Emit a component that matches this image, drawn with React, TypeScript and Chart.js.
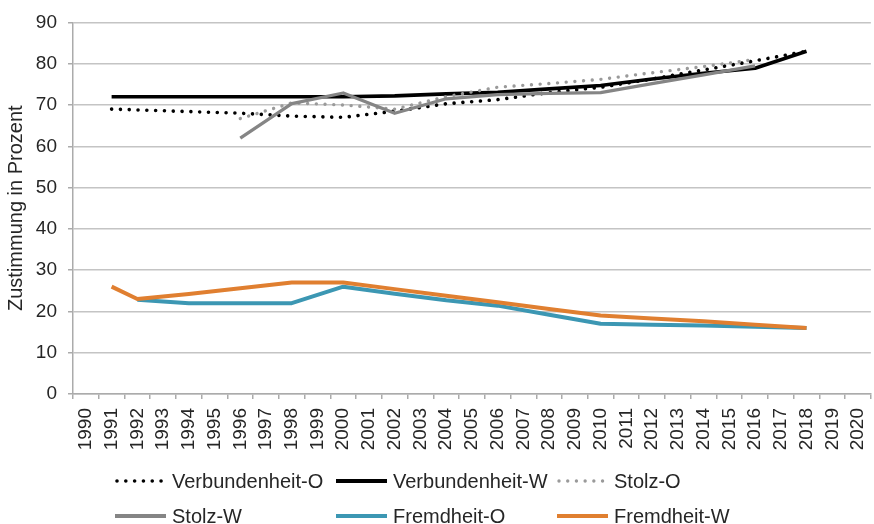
import React, { useEffect, useRef } from "react";
import { Chart, registerables } from "chart.js";

Chart.register(...registerables);

const yearLabels = [
  "1990", "1991", "1992", "1993", "1994", "1995", "1996", "1997", "1998", "1999",
  "2000", "2001", "2002", "2003", "2004", "2005", "2006", "2007", "2008", "2009",
  "2010", "2011", "2012", "2013", "2014", "2015", "2016", "2017", "2018", "2019", "2020",
];

const verbundenheitYears = [1991, 1996, 1998, 2000, 2002, 2004, 2006, 2008, 2010, 2012, 2014, 2016, 2018];
const verbundenheitO = [69, 68, 67.3, 67, 68.5, 70.3, 71.3, 73, 74.3, 76.3, 78.5, 80.7, 83];
const verbundenheitW = [72, 72, 72, 72, 72.2, 72.7, 73.1, 73.9, 74.7, 76.3, 77.7, 78.9, 83];

const stolzYears = [1996, 1998, 2000, 2002, 2004, 2006, 2008, 2010, 2012, 2014, 2016];
const stolzO = [66.7, 70.5, 70, 69, 72, 74.3, 75.2, 76.2, 77.8, 79.3, 81];
const stolzW = [62, 70.3, 72.9, 68, 71.5, 72.5, 72.8, 73, 75.2, 77.3, 79.5];

const fremdheitOYears = [1992, 1994, 1996, 1998, 2000, 2002, 2004, 2006, 2008, 2010, 2012, 2014, 2016, 2018];
const fremdheitO = [22.8, 22, 22, 22, 26, 24.3, 22.7, 21.4, 19.2, 17, 16.8, 16.6, 16.3, 16];

const fremdheitWYears = [1991, 1992, 1994, 1996, 1998, 2000, 2002, 2004, 2006, 2008, 2010, 2012, 2014, 2016, 2018];
const fremdheitW = [26, 23, 24.2, 25.6, 27, 27, 25.4, 23.8, 22.2, 20.6, 19, 18.3, 17.6, 16.8, 16];

const yTicks = [0, 10, 20, 30, 40, 50, 60, 70, 80, 90];

const FONT = '"Liberation Sans", Arial, Helvetica, sans-serif';
const TEXT = "#262626";

const toPoints = (years: number[], values: number[]) =>
  years.map((yr, i) => ({ x: String(yr), y: values[i] }));

const legendColumns = [115, 336, 557];
const legendRows = [481, 516];
const sampleLen = 51;

const gridLegend = {
  id: "gridLegend",
  afterDraw(chart: any) {
    const ctx = chart.ctx as CanvasRenderingContext2D;
    ctx.save();
    chart.data.datasets.forEach((ds: any, i: number) => {
      const col = i % 3;
      const row = Math.floor(i / 3);
      const x0 = legendColumns[col];
      const y = legendRows[row];
      ctx.beginPath();
      ctx.strokeStyle = ds.borderColor;
      ctx.lineWidth = ds.legendWidth || ds.borderWidth;
      ctx.setLineDash(ds.borderDash || []);
      ctx.lineCap = ds.borderCapStyle || "butt";
      ctx.moveTo(x0 + (ds.borderDash ? 2 : 0), y);
      ctx.lineTo(x0 + sampleLen, y);
      ctx.stroke();
      ctx.setLineDash([]);
      ctx.fillStyle = TEXT;
      ctx.font = `20px ${FONT}`;
      ctx.textBaseline = "middle";
      ctx.textAlign = "left";
      ctx.fillText(ds.label, x0 + sampleLen + 6, y + 1);
    });
    ctx.restore();
  },
};

export default function App() {
  const canvasRef = useRef<HTMLCanvasElement | null>(null);

  useEffect(() => {
    const canvas = canvasRef.current;
    if (!canvas) return;
    const chart = new Chart(canvas, {
      type: "line",
      data: {
        labels: yearLabels,
        datasets: [
          {
            label: "Verbundenheit-O",
            data: toPoints(verbundenheitYears, verbundenheitO),
            borderColor: "#000000",
            borderWidth: 3.6,
            borderDash: [0.01, 8.8],
            borderCapStyle: "round",
            order: 6,
          } as any,
          {
            label: "Verbundenheit-W",
            data: toPoints(verbundenheitYears, verbundenheitW),
            borderColor: "#000000",
            borderWidth: 3.6,
            legendWidth: 4,
            order: 5,
          } as any,
          {
            label: "Stolz-O",
            data: toPoints(stolzYears, stolzO),
            borderColor: "#9a9a9a",
            borderWidth: 3.4,
            borderDash: [0.01, 8.7],
            borderCapStyle: "round",
            order: 4,
          } as any,
          {
            label: "Stolz-W",
            data: toPoints(stolzYears, stolzW),
            borderColor: "#858585",
            borderWidth: 3.3,
            legendWidth: 4,
            order: 3,
          } as any,
          {
            label: "Fremdheit-O",
            data: toPoints(fremdheitOYears, fremdheitO),
            borderColor: "#3c97b3",
            borderWidth: 4,
            order: 2,
          } as any,
          {
            label: "Fremdheit-W",
            data: toPoints(fremdheitWYears, fremdheitW),
            borderColor: "#e07f30",
            borderWidth: 4,
            order: 1,
          } as any,
        ],
      },
      options: {
        animation: false,
        responsive: false,
        devicePixelRatio: 1,
        layout: { padding: { top: 21, right: 12, left: 0, bottom: 0 } },
        elements: {
          point: { radius: 0, hoverRadius: 0 },
          line: { tension: 0, borderJoinStyle: "round", fill: false },
        },
        plugins: {
          legend: { display: false },
          tooltip: { enabled: false },
          title: { display: false },
        },
        scales: {
          x: {
            type: "category",
            offset: true,
            grid: {
              display: true,
              drawOnChartArea: false,
              drawTicks: true,
              tickLength: 5,
              color: "#ababab",
              lineWidth: 1.5,
              offset: true,
            },
            border: { display: true, color: "#ababab", width: 1.5 },
            ticks: {
              autoSkip: false,
              minRotation: 90,
              maxRotation: 90,
              padding: 9,
              color: TEXT,
              font: { family: FONT, size: 19 },
            },
            afterFit(scale: any) {
              scale.height = 130;
            },
          },
          y: {
            min: 0,
            max: 90,
            afterBuildTicks(scale: any) {
              scale.ticks = yTicks.map((v) => ({ value: v }));
            },
            grid: {
              color: "#c4c4c4",
              lineWidth: 1.5,
              drawTicks: true,
              tickLength: 5,
              tickColor: "#ababab",
            },
            border: { display: true, color: "#ababab", width: 1.5 },
            ticks: {
              padding: 11,
              color: TEXT,
              font: { family: FONT, size: 19 },
            },
            title: {
              display: true,
              text: "Zustimmung in Prozent",
              color: TEXT,
              font: { family: FONT, size: 20 },
              padding: { top: 4, bottom: 0 },
            },
            afterFit(scale: any) {
              scale.width = 73;
            },
          },
        },
      } as any,
      plugins: [gridLegend],
    });
    return () => chart.destroy();
  }, []);

  return (
    <div
      style={{
        position: "fixed",
        left: 0,
        top: 0,
        width: 874,
        height: 524,
        overflow: "hidden",
        background: "#ffffff",
      }}
    >
      <canvas ref={canvasRef} width={890} height={524} style={{ display: "block", width: 890, height: 524 }} />
    </div>
  );
}
